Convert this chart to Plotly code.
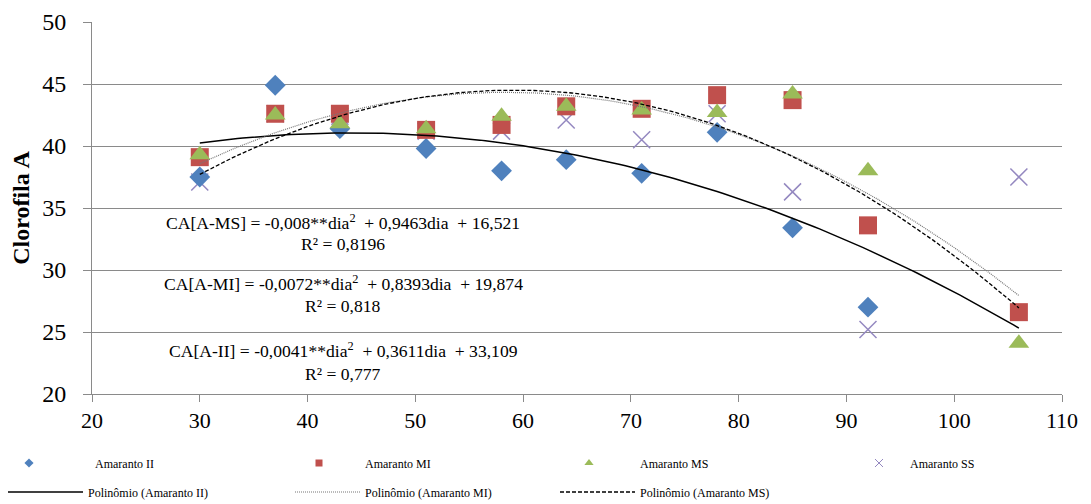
import numpy as np
import plotly.graph_objects as go

# ---- data ----
days = [30, 37, 43, 51, 58, 64, 71, 78, 85, 92, 106]
days_ii = [30, 37, 43, 51, 58, 64, 71, 78, 85, 92]
amaranto_ii = [37.5, 44.9, 41.4, 39.8, 38.0, 38.9, 37.8, 41.1, 33.4, 27.0]
amaranto_mi = [39.1, 42.6, 42.6, 41.3, 41.7, 43.2, 43.0, 44.1, 43.7, 33.6, 26.6]
amaranto_ms = [39.3, 42.5, 41.8, 41.4, 42.4, 43.2, 42.9, 42.7, 44.2, 38.0, 24.1]
amaranto_ss = [37.1, 42.6, 42.4, 41.2, 41.2, 42.1, 40.5, 42.6, 36.3, 25.2, 37.5]

# trend-line coefficients shown on the chart (a*dia^2 + b*dia + c)
coef_ii = [-0.0041, 0.3611, 33.109]
coef_mi = [-0.0072, 0.8393, 19.874]
coef_ms = [-0.008, 0.9463, 16.521]
trend_range = [30, 106]

eq_texts = [
    "CA[A-MS] = -0,008**dia<sup>2</sup> \u00a0+ 0,9463dia \u00a0+ 16,521",
    "R² = 0,8196",
    "CA[A-MI] = -0,0072**dia<sup>2</sup> \u00a0+ 0,8393dia \u00a0+ 19,874",
    "R² = 0,818",
    "CA[A-II] = -0,0041**dia<sup>2</sup> \u00a0+ 0,3611dia \u00a0+ 33,109",
    "R² = 0,777",
]
eq_y = [33.87, 32.10, 28.95, 27.10, 23.55, 21.61]
eq_x = 43.3

FONT = "Liberation Serif, Times New Roman, serif"
BLUE = "#4F81BD"
RED = "#C0504D"
GREEN = "#9BBB59"
PURPLE = "#9488C0"

xt = np.linspace(trend_range[0], trend_range[1], 153)
def poly(c):
    return np.polyval(c, xt)

fig = go.Figure()

# scatter series (SS drawn first so it sits beneath the others)
fig.add_trace(go.Scatter(x=days, y=amaranto_ss, mode="markers", showlegend=False,
                         marker=dict(symbol="x-thin", size=17, line=dict(color=PURPLE, width=1.5))))
fig.add_trace(go.Scatter(x=days_ii, y=amaranto_ii, mode="markers", showlegend=False,
                         marker=dict(symbol="diamond", size=16, color=BLUE)))
fig.add_trace(go.Scatter(x=days, y=amaranto_mi, mode="markers", showlegend=False,
                         marker=dict(symbol="square", size=18, color=RED)))
fig.add_trace(go.Scatter(x=days, y=amaranto_ms, mode="markers", showlegend=False,
                         marker=dict(symbol="triangle-up", size=18, color=GREEN)))

# trend lines
fig.add_trace(go.Scatter(x=xt, y=poly(coef_ii), mode="lines", name="Polinômio (Amaranto II)",
                         line=dict(color="black", width=1.5), legend="legend5"))
fig.add_trace(go.Scatter(x=xt, y=poly(coef_mi), mode="lines", name="Polinômio (Amaranto MI)",
                         line=dict(color="#777777", width=1.2, dash="1px,1px"), legend="legend6"))
fig.add_trace(go.Scatter(x=xt, y=poly(coef_ms), mode="lines", name="Polinômio (Amaranto MS)",
                         line=dict(color="black", width=1.3, dash="4px,2px"), legend="legend7"))

# legend entries for the markers (small symbols as in the reference)
fig.add_trace(go.Scatter(x=[None], y=[None], mode="markers", name="Amaranto II", legend="legend",
                         marker=dict(symbol="diamond", size=7, color=BLUE)))
fig.add_trace(go.Scatter(x=[None], y=[None], mode="markers", name="Amaranto MI", legend="legend2",
                         marker=dict(symbol="square", size=7, color=RED)))
fig.add_trace(go.Scatter(x=[None], y=[None], mode="markers", name="Amaranto MS", legend="legend3",
                         marker=dict(symbol="triangle-up", size=8, color=GREEN)))
fig.add_trace(go.Scatter(x=[None], y=[None], mode="markers", name="Amaranto SS", legend="legend4",
                         marker=dict(symbol="x-thin", size=8, line=dict(color=PURPLE, width=1))))

for t, y in zip(eq_texts, eq_y):
    fig.add_annotation(x=eq_x, y=y, xref="x", yref="y", text=t, showarrow=False,
                       font=dict(family=FONT, size=17.6, color="black"),
                       xanchor="center", yanchor="middle")

# page body has an 8px margin: figure is sized/offset to land on the target pixels
OFF = 8
W, H = 1091 - 2 * OFF, 504 - OFF
L, T = 92 - OFF, 22 - OFF
PW, PH = 970, 372
R, B = W - L - PW, H - T - PH

def leg(xw, yw, iw):
    return dict(orientation="h", xref="paper", yref="paper",
                x=(xw - OFF - L) / PW, y=(T + PH - (yw - OFF)) / PH,
                xanchor="left", yanchor="middle",
                itemwidth=iw, font=dict(family=FONT, size=12), bgcolor="rgba(0,0,0,0)")

grid = "#8a8a8a"
fig.update_layout(
    width=W, height=H,
    margin=dict(l=L, r=R, t=T, b=B, autoexpand=False),
    paper_bgcolor="white", plot_bgcolor="white",
    font=dict(family=FONT, color="black"),
    xaxis=dict(range=[20, 110], tickmode="linear", tick0=20, dtick=10,
               showgrid=False, showline=True, linecolor=grid, linewidth=1,
               ticks="outside", ticklen=7, tickcolor=grid,
               tickfont=dict(family=FONT, size=22), zeroline=False),
    yaxis=dict(range=[20, 50], tickmode="linear", tick0=20, dtick=5,
               showgrid=True, gridcolor=grid, gridwidth=1,
               showline=True, linecolor=grid, linewidth=1,
               ticks="outside", ticklen=8, tickcolor=grid, ticklabelstandoff=12,
               tickfont=dict(family=FONT, size=24), zeroline=False,
               title=dict(text="<b>Clorofila A</b>", font=dict(family=FONT, size=24), standoff=6)),
    legend=leg(-37, 463, 122),
    legend2=leg(273, 463, 82),
    legend3=leg(538, 463, 92),
    legend4=leg(848, 463, 52),
    legend5=leg(-2, 492, 80),
    legend6=leg(290, 492, 65),
    legend7=leg(555, 492, 75),
    showlegend=True,
)

fig.write_html("out.html")
